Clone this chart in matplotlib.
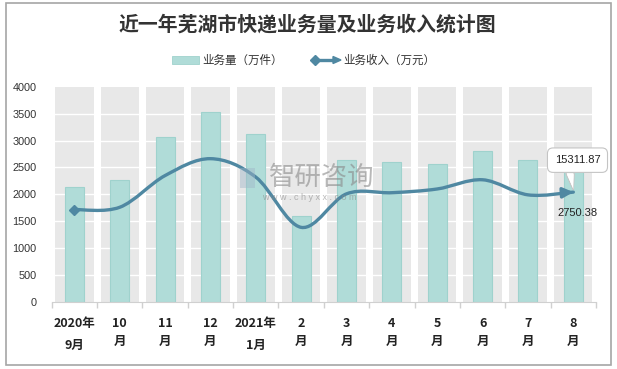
import numpy as np
import matplotlib
matplotlib.use("Agg")
import matplotlib.pyplot as plt
from matplotlib.path import Path
from matplotlib.patches import PathPatch, Rectangle, Polygon
from matplotlib.transforms import ScaledTranslation

plt.rcParams['font.family'] = ['Noto Sans CJK SC', 'DejaVu Sans']

categories = ["2020年\n9月", "10\n月", "11\n月", "12\n月", "2021年\n1月", "2\n月",
              "3\n月", "4\n月", "5\n月", "6\n月", "7\n月", "8\n月"]
volume = [2135, 2270, 3065, 3535, 3125, 1592, 2645, 2607, 2570, 2812, 2645, 2750.38]   # 万件
revenue = [12880, 13200, 17620, 19970, 17400, 10400, 15070, 15230, 15750, 17030, 14930, 15311.87]  # 万元
yticks = [0, 500, 1000, 1500, 2000, 2500, 3000, 3500, 4000]

BAR = '#b0dcd8'
BAR_EDGE = '#9fd2cd'
LINE = '#4f88a2'
GREY = '#e8e8e8'

W, H = 617, 369
fig = plt.figure(figsize=(W / 100, H / 100), dpi=100)
fig.patch.set_facecolor('white')
fig.add_artist(Rectangle((6 / W, 1 - 365 / H), (611 - 6) / W, (365 - 3) / H,
                         transform=fig.transFigure, fill=False, ec='#a6a6a6', lw=1.2))

ax = fig.add_axes([51.7 / W, 1 - 302 / H, (596 - 51.7) / W, (302 - 86.7) / H])
x = np.arange(len(categories))
ax.set_xlim(-0.5, len(categories) - 0.5)
ax.set_ylim(0, 4000)

# grey column backgrounds
ax.bar(x, [yticks[-1]] * len(x), width=0.845, color=GREY, zorder=0)
for t in yticks[1:-1]:
    ax.axhline(t, color='white', lw=1, zorder=1)
ax.bar(x, volume, width=0.42, color=BAR, edgecolor=BAR_EDGE, lw=0.8, zorder=2)

for s in ['top', 'right', 'left']:
    ax.spines[s].set_visible(False)
ax.spines['bottom'].set_color('#d0d0d0')
ax.set_yticks(yticks)
ax.set_yticklabels([str(t) for t in yticks], fontsize=7.8, color='#333333',
                   family=['Liberation Sans', 'DejaVu Sans'])
ax.tick_params(axis='y', length=0, pad=11)
ax.set_xticks(x)
ax.set_xticklabels(categories, fontsize=9, fontweight='bold', color='#222222')
ax.tick_params(axis='x', which='major', length=0, pad=11)
ax.set_xticks(np.arange(-0.5, len(categories)), minor=True)
ax.tick_params(axis='x', which='minor', length=4, color='#d0d0d0', width=1)
for lbl in ax.get_xticklabels():
    if '年' in lbl.get_text():
        lbl.set_linespacing(1.85)
    else:
        lbl.set_linespacing(1.45)

# secondary axis for revenue
ax2 = ax.twinx()
ax2.set_ylim(0, 30000)
ax2.axis('off')

pts = np.column_stack([x, revenue]).astype(float)
n = len(pts)
verts = [pts[0]]
codes = [Path.MOVETO]
for i in range(n - 1):
    p0 = pts[i - 1] if i > 0 else pts[i]
    p1 = pts[i]
    p2 = pts[i + 1]
    p3 = pts[i + 2] if i + 2 < n else pts[i + 1]
    c1 = p1 + (p2 - p0) / 6
    c2 = p2 - (p3 - p1) / 6
    verts += [c1, c2, p2]
    codes += [Path.CURVE4] * 3
ax2.add_patch(PathPatch(Path(verts, codes), fill=False, ec=LINE, lw=2.4, zorder=5,
                        capstyle='round'))
ax2.plot([x[0]], [revenue[0]], marker='D', ms=5, color=LINE, zorder=6)
tail = pts[-1] - (pts[-1] - pts[-2]) / 4
ax2.annotate('', xy=(x[-1], revenue[-1]), xytext=(tail[0], tail[1]),
             arrowprops=dict(arrowstyle='-|>,head_length=0.6,head_width=0.3', color=LINE,
                             lw=2.4, shrinkA=0, shrinkB=0), zorder=6)

# callout tab (offsets in inches relative to the last data point)
tab_tr = fig.dpi_scale_trans + ScaledTranslation(x[-1], revenue[-1], ax2.transData)
tab = Polygon([[-0.075, 0.185], [0.01, 0.185], [0.0, 0.02]], closed=True, fc='white',
              ec='#c4c4c4', lw=0.8, transform=tab_tr, zorder=7, clip_on=False)
ax2.add_patch(tab)

# labels
ax2.annotate(f'{revenue[-1]:.2f}', xy=(x[-1], revenue[-1]), xytext=(3, 23),
             textcoords='offset points', ha='center', va='center', fontsize=8,
             color='#222222', family=['Liberation Sans', 'DejaVu Sans'],
             bbox=dict(boxstyle='round,pad=0.65,rounding_size=0.5', fc='white', ec='#c4c4c4', lw=0.8),
             annotation_clip=False, zorder=8)
ax2.add_patch(Polygon([[-0.067, 0.19], [0.002, 0.19], [0.0, 0.03]], closed=True, fc='white',
                      ec='none', transform=tab_tr, zorder=9, clip_on=False))
ax2.annotate(f'{volume[-1]:.2f}', xy=(x[-1], revenue[-1]), xytext=(3, -15),
             textcoords='offset points', ha='center', va='center', fontsize=8,
             color='#222222', family=['Liberation Sans', 'DejaVu Sans'], zorder=8)

# watermark
fig.add_artist(Rectangle((240 / W, 1 - 188 / H), 15 / W, 20 / H, transform=fig.transFigure,
                         fc='#9fb6c8', ec='none', alpha=0.45, zorder=9))
fig.text(322 / W, 1 - 177 / H, '智研咨询', fontsize=19, color='#8a8a8a', alpha=0.6,
         ha='center', va='center', zorder=9)
fig.text(309 / W, 1 - 197 / H, 'w w w . c h y x x . c o m', fontsize=6.5, color='#8a8a8a',
         alpha=0.6, ha='center', va='center', zorder=9, family=['Liberation Sans'])

# title
fig.text(307 / W, 1 - 24 / H, '近一年芜湖市快递业务量及业务收入统计图', fontsize=14.3,
         fontweight='bold', color='#333333', ha='center', va='center')

# legend
fig.add_artist(Rectangle((172 / W, 1 - 64 / H), 27 / W, 8 / H, transform=fig.transFigure,
                         fc=BAR, ec=BAR_EDGE, lw=0.6))
fig.text(202 / W, 1 - 60 / H, '业务量（万件）', fontsize=8.3, color='#333333',
         ha='left', va='center')
fig.add_artist(plt.Line2D([315 / W], [1 - 60 / H], marker='D', ms=5, color=LINE,
                          transform=fig.transFigure))
fig.add_artist(plt.Line2D([315 / W, 334 / W], [1 - 60 / H, 1 - 60 / H], lw=2.4, color=LINE,
                          transform=fig.transFigure))
fig.add_artist(Polygon([[333 / W, 1 - 56.5 / H], [341 / W, 1 - 60 / H], [333 / W, 1 - 63.5 / H]],
                       closed=True, color=LINE, transform=fig.transFigure))
fig.text(343 / W, 1 - 60 / H, '业务收入（万元）', fontsize=8.3, color='#333333',
         ha='left', va='center')

fig.savefig('out.png', dpi=100)
